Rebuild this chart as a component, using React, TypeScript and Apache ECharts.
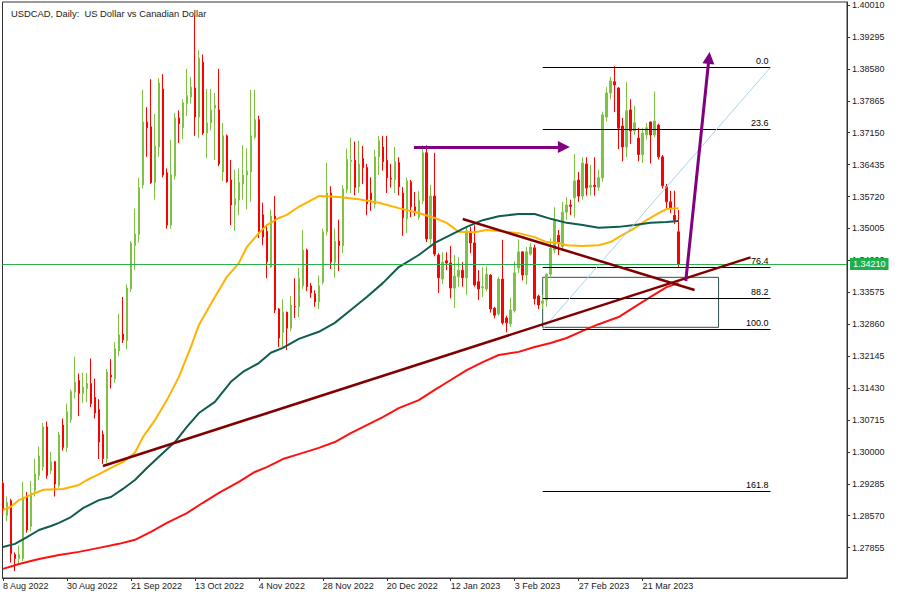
import React, { useEffect, useRef } from 'react';
import * as echarts from 'echarts';

// ---- axis ticks / labels ----
const xTickIndex = [0, 16, 32, 48, 64, 80, 96, 112, 128, 144, 160];
const xTickLabels = ['8 Aug 2022', '30 Aug 2022', '21 Sep 2022', '13 Oct 2022', '4 Nov 2022', '28 Nov 2022', '20 Dec 2022', '12 Jan 2023', '3 Feb 2023', '27 Feb 2023', '21 Mar 2023'];
const priceTicks = [1.27855, 1.2857, 1.29285, 1.3, 1.30715, 1.3143, 1.32145, 1.3286, 1.33575, 1.3429, 1.35005, 1.3572, 1.36435, 1.3715, 1.37865, 1.3858, 1.39295, 1.4001];

// ---- daily candles: [open, high, low, close], one row per trading day from 8 Aug 2022 ----
const ohlc = [
  [1.2930, 1.2935, 1.2860, 1.2870], [1.2858, 1.2900, 1.2845, 1.2887], [1.2891, 1.2895, 1.2752, 1.2772], [1.2770, 1.2775, 1.2733, 1.2761],
  [1.2761, 1.2790, 1.2749, 1.2770], [1.2761, 1.2933, 1.2755, 1.2899], [1.2899, 1.2910, 1.2819, 1.2825], [1.2833, 1.2935, 1.2822, 1.2908],
  [1.2914, 1.2985, 1.2900, 1.2950], [1.2947, 1.3012, 1.2937, 1.2991], [1.2967, 1.3065, 1.2958, 1.3056], [1.3056, 1.3068, 1.2940, 1.2947],
  [1.2958, 1.3000, 1.2950, 1.2978], [1.2978, 1.2980, 1.2900, 1.2928], [1.2925, 1.3045, 1.2920, 1.3038], [1.3060, 1.3075, 1.3003, 1.3010],
  [1.3010, 1.3108, 1.3000, 1.3090], [1.3072, 1.3140, 1.3065, 1.3135], [1.3134, 1.3213, 1.3120, 1.3156], [1.3160, 1.3175, 1.3080, 1.3131],
  [1.3131, 1.3177, 1.3110, 1.3145], [1.3142, 1.3177, 1.3112, 1.3153], [1.3153, 1.3209, 1.3100, 1.3108], [1.3122, 1.3164, 1.3075, 1.3087],
  [1.3095, 1.3118, 1.2984, 1.3022], [1.3039, 1.3048, 1.2973, 1.2985], [1.2985, 1.3185, 1.2975, 1.3179], [1.3172, 1.3208, 1.3142, 1.3168],
  [1.3164, 1.3246, 1.3155, 1.3231], [1.3226, 1.3309, 1.3215, 1.3262], [1.3264, 1.3347, 1.3244, 1.3251], [1.3249, 1.3375, 1.3230, 1.3367],
  [1.3365, 1.3472, 1.3358, 1.3468], [1.3462, 1.3545, 1.3408, 1.3488], [1.3487, 1.3614, 1.3469, 1.3592], [1.3598, 1.3811, 1.3590, 1.3739],
  [1.3739, 1.3772, 1.3661, 1.3726], [1.3728, 1.3835, 1.3600, 1.3603], [1.3603, 1.3757, 1.3565, 1.3685], [1.3683, 1.3837, 1.3661, 1.3826],
  [1.3813, 1.3846, 1.3615, 1.3620], [1.3625, 1.3635, 1.3500, 1.3508], [1.3508, 1.3699, 1.3500, 1.3620], [1.3618, 1.3759, 1.3610, 1.3748],
  [1.3748, 1.3765, 1.3692, 1.3735], [1.3726, 1.3790, 1.3700, 1.3782], [1.3780, 1.3858, 1.3752, 1.3798], [1.3795, 1.3840, 1.3780, 1.3817],
  [1.3815, 1.3977, 1.3708, 1.3750], [1.3750, 1.3900, 1.3703, 1.3882], [1.3873, 1.3890, 1.3710, 1.3714], [1.3714, 1.3813, 1.3658, 1.3737],
  [1.3737, 1.3813, 1.3720, 1.3766], [1.3770, 1.3804, 1.3654, 1.3777], [1.3766, 1.3858, 1.3640, 1.3645], [1.3627, 1.3737, 1.3606, 1.3708],
  [1.3708, 1.3711, 1.3603, 1.3605], [1.3609, 1.3654, 1.3508, 1.3553], [1.3553, 1.3632, 1.3495, 1.3567], [1.3564, 1.3635, 1.3530, 1.3604],
  [1.3600, 1.3687, 1.3565, 1.3620], [1.3620, 1.3680, 1.3543, 1.3629], [1.3627, 1.3811, 1.3560, 1.3708], [1.3705, 1.3811, 1.3700, 1.3744],
  [1.3744, 1.3753, 1.3479, 1.3490], [1.3531, 1.3558, 1.3463, 1.3481], [1.3494, 1.3509, 1.3389, 1.3426], [1.3414, 1.3543, 1.3412, 1.3528],
  [1.3528, 1.3573, 1.3311, 1.3318], [1.3320, 1.3322, 1.3235, 1.3255], [1.3268, 1.3342, 1.3235, 1.3313], [1.3313, 1.3314, 1.3228, 1.3277],
  [1.3277, 1.3349, 1.3270, 1.3329], [1.3326, 1.3389, 1.3300, 1.3325], [1.3325, 1.3412, 1.3302, 1.3389], [1.3372, 1.3497, 1.3365, 1.3452],
  [1.3452, 1.3455, 1.3360, 1.3370], [1.3372, 1.3378, 1.3345, 1.3356], [1.3354, 1.3362, 1.3325, 1.3336], [1.3336, 1.3395, 1.3320, 1.3372],
  [1.3380, 1.3500, 1.3375, 1.3493], [1.3493, 1.3648, 1.3485, 1.3580], [1.3580, 1.3595, 1.3410, 1.3425], [1.3425, 1.3500, 1.3390, 1.3472],
  [1.3472, 1.3520, 1.3405, 1.3462], [1.3462, 1.3598, 1.3445, 1.3589], [1.3587, 1.3679, 1.3580, 1.3655], [1.3650, 1.3704, 1.3580, 1.3653],
  [1.3653, 1.3695, 1.3575, 1.3592], [1.3594, 1.3697, 1.3580, 1.3645], [1.3657, 1.3685, 1.3600, 1.3637], [1.3637, 1.3645, 1.3530, 1.3555],
  [1.3580, 1.3615, 1.3540, 1.3565], [1.3555, 1.3677, 1.3545, 1.3661], [1.3661, 1.3708, 1.3620, 1.3697], [1.3683, 1.3708, 1.3630, 1.3650],
  [1.3653, 1.3708, 1.3580, 1.3614], [1.3613, 1.3645, 1.3592, 1.3611], [1.3610, 1.3683, 1.3580, 1.3650], [1.3648, 1.3660, 1.3575, 1.3594],
  [1.3580, 1.3593, 1.3484, 1.3524], [1.3522, 1.3614, 1.3490, 1.3607], [1.3605, 1.3609, 1.3526, 1.3549], [1.3549, 1.3582, 1.3528, 1.3540],
  [1.3526, 1.3584, 1.3520, 1.3564], [1.3562, 1.3687, 1.3555, 1.3670], [1.3670, 1.3687, 1.3470, 1.3477], [1.3477, 1.3598, 1.3465, 1.3573],
  [1.3573, 1.3670, 1.3438, 1.3443], [1.3441, 1.3445, 1.3356, 1.3390], [1.3387, 1.3447, 1.3376, 1.3425], [1.3428, 1.3447, 1.3407, 1.3423],
  [1.3423, 1.3461, 1.3344, 1.3367], [1.3367, 1.3441, 1.3322, 1.3394], [1.3392, 1.3436, 1.3370, 1.3407], [1.3407, 1.3425, 1.3370, 1.3390],
  [1.3390, 1.3504, 1.3351, 1.3495], [1.3493, 1.3504, 1.3445, 1.3468], [1.3468, 1.3508, 1.3370, 1.3374], [1.3381, 1.3407, 1.3340, 1.3365],
  [1.3368, 1.3414, 1.3347, 1.3370], [1.3365, 1.3416, 1.3360, 1.3398], [1.3396, 1.3398, 1.3312, 1.3320], [1.3322, 1.3325, 1.3299, 1.3306],
  [1.3309, 1.3392, 1.3305, 1.3387], [1.3387, 1.3475, 1.3285, 1.3289], [1.3300, 1.3305, 1.3268, 1.3289], [1.3287, 1.3345, 1.3280, 1.3318],
  [1.3316, 1.3427, 1.3312, 1.3401], [1.3412, 1.3476, 1.3400, 1.3448], [1.3448, 1.3449, 1.3384, 1.3396], [1.3396, 1.3459, 1.3375, 1.3448],
  [1.3443, 1.3468, 1.3440, 1.3459], [1.3457, 1.3464, 1.3330, 1.3343], [1.3349, 1.3352, 1.3320, 1.3329], [1.3333, 1.3352, 1.3320, 1.3338],
  [1.3340, 1.3400, 1.3325, 1.3398], [1.3398, 1.3478, 1.3390, 1.3456], [1.3452, 1.3548, 1.3445, 1.3519], [1.3485, 1.3497, 1.3441, 1.3470],
  [1.3460, 1.3560, 1.3455, 1.3537], [1.3537, 1.3571, 1.3520, 1.3553], [1.3553, 1.3565, 1.3530, 1.3550], [1.3569, 1.3667, 1.3525, 1.3607],
  [1.3609, 1.3627, 1.3560, 1.3573], [1.3573, 1.3660, 1.3565, 1.3647], [1.3645, 1.3660, 1.3574, 1.3591], [1.3593, 1.3643, 1.3574, 1.3597],
  [1.3597, 1.3660, 1.3574, 1.3594], [1.3593, 1.3632, 1.3585, 1.3614], [1.3614, 1.3762, 1.3605, 1.3755], [1.3750, 1.3817, 1.3740, 1.3804],
  [1.3804, 1.3840, 1.3790, 1.3831], [1.3829, 1.3864, 1.3761, 1.3822], [1.3815, 1.3817, 1.3678, 1.3725], [1.3730, 1.3748, 1.3651, 1.3683],
  [1.3683, 1.3828, 1.3660, 1.3764], [1.3766, 1.3790, 1.3690, 1.3719], [1.3719, 1.3775, 1.3710, 1.3737], [1.3703, 1.3726, 1.3651, 1.3666],
  [1.3666, 1.3726, 1.3647, 1.3714], [1.3710, 1.3737, 1.3700, 1.3726], [1.3739, 1.3740, 1.3646, 1.3710], [1.3710, 1.3807, 1.3705, 1.3741],
  [1.3732, 1.3735, 1.3655, 1.3661], [1.3661, 1.3665, 1.3590, 1.3596], [1.3594, 1.3600, 1.3545, 1.3560], [1.3560, 1.3585, 1.3535, 1.3544],
  [1.3530, 1.3585, 1.3510, 1.3519], [1.3493, 1.3542, 1.3412, 1.3421],
];

// ---- moving averages: [bar index, price] ----
const maYellow = [
  [0, 1.2870], [2, 1.2877], [4, 1.2892], [8, 1.2908], [10, 1.2915], [15, 1.2917], [19, 1.2926], [21, 1.2937], [24, 1.2950], [27, 1.2964],
  [30, 1.2977], [33, 1.2998], [35, 1.3033], [38, 1.3071], [41, 1.3116], [44, 1.3168], [47, 1.3235], [49, 1.3284], [53, 1.3347], [56, 1.3392],
  [59, 1.3423], [61, 1.3459], [64, 1.3490], [66, 1.3508], [69, 1.3524], [71, 1.3531], [74, 1.3549], [79, 1.3573], [84, 1.3571], [89, 1.3566],
  [94, 1.3558], [99, 1.3546], [104, 1.3535], [108, 1.3524], [111, 1.3513], [114, 1.3493], [118, 1.3492], [121, 1.3497], [124, 1.3495],
  [129, 1.3490], [133, 1.3481], [136, 1.3470], [139, 1.3468], [141, 1.3463], [145, 1.3461], [149, 1.3463], [152, 1.3470], [154, 1.3481],
  [158, 1.3501], [161, 1.3519], [164, 1.3535], [166, 1.3544], [169, 1.3546],
];
const maTeal = [
  [0, 1.2787], [3, 1.2794], [6, 1.2809], [9, 1.2825], [12, 1.2834], [14, 1.2841], [17, 1.2854], [20, 1.2874], [24, 1.2892], [27, 1.2899],
  [30, 1.2917], [33, 1.2937], [36, 1.2964], [39, 1.2989], [43, 1.3022], [46, 1.3056], [49, 1.3087], [53, 1.3112], [57, 1.3157], [60, 1.3179],
  [64, 1.3199], [67, 1.3222], [70, 1.3233], [74, 1.3253], [79, 1.3269], [83, 1.3289], [87, 1.3318], [91, 1.3347], [95, 1.3378], [99, 1.3414],
  [104, 1.3441], [108, 1.3468], [112, 1.3486], [116, 1.3504], [120, 1.3519], [124, 1.3528], [129, 1.3533], [133, 1.3533], [137, 1.3522],
  [141, 1.3513], [145, 1.3508], [149, 1.3502], [154, 1.3504], [158, 1.3508], [162, 1.3513], [166, 1.3515], [169, 1.3517],
];
const maRed = [
  [0, 1.2738], [4, 1.2749], [9, 1.2760], [14, 1.2769], [19, 1.2776], [24, 1.2785], [29, 1.2794], [33, 1.2803], [37, 1.2821], [41, 1.2841],
  [46, 1.2863], [50, 1.2886], [54, 1.2908], [59, 1.2933], [63, 1.2955], [66, 1.2966], [70, 1.2984], [74, 1.2995], [79, 1.3009], [83, 1.3022],
  [87, 1.3042], [91, 1.3060], [95, 1.3078], [99, 1.3098], [104, 1.3116], [108, 1.3139], [112, 1.3161], [116, 1.3183], [120, 1.3201],
  [124, 1.3217], [129, 1.3224], [133, 1.3235], [137, 1.3244], [141, 1.3255], [145, 1.3271], [149, 1.3286], [154, 1.3302], [158, 1.3325],
  [162, 1.3347], [166, 1.3369], [169, 1.3378],
];

// ---- drawing objects ----
const lastPrice = 1.3421;
const fibHigh = 1.38614;
const fibLow = 1.32746;
const fibLevels = [0, 23.6, 76.4, 88.2, 100, 161.8];
const fibStartIdx = 135;
const fibEndIdx = 192;
const boxCorners = [[135, 1.3391], [179, 1.3279]];
const trendUp = [[25, 1.29684], [187, 1.34358]];
const trendDown = [[115, 1.35216], [173, 1.33626]];
const arrowFlat = [[102.8, 1.36829], [140.3, 1.36829]];
const arrowUp = [[170.8, 1.33828], [176.6, 1.38823]];

const FONT = 'Liberation Sans';

export default function App() {
  const ref = useRef<HTMLDivElement>(null);
  useEffect(() => {
    if (!ref.current) return;
    const chart = echarts.init(ref.current, undefined, { renderer: 'svg' });
    const fibPrice = (l: number) => fibHigh - (l / 100) * (fibHigh - fibLow);
    const labelFor = (v: number) => {
      const k = xTickIndex.indexOf(Math.round(v));
      return k >= 0 ? xTickLabels[k] : '';
    };
    const candleData = ohlc.map((r, i) => [i, r[0], r[3], r[2], r[1]]);

    chart.setOption({
      animation: false,
      backgroundColor: '#ffffff',
      title: {
        text: 'USDCAD, Daily:  US Dollar vs Canadian Dollar',
        left: 6,
        top: 4,
        textStyle: { fontSize: 9.4, fontWeight: 'normal', color: '#222', fontFamily: FONT },
      },
      grid: { left: 2, right: 53, top: 2, bottom: 22, show: true, borderColor: '#333', borderWidth: 1, backgroundColor: 'transparent' },
      xAxis: {
        type: 'value',
        min: -0.125,
        max: 211.125,
        splitLine: { show: false },
        axisLine: { show: true, onZero: false, lineStyle: { color: '#333' } },
        axisTick: { show: true, length: 3, customValues: xTickIndex, lineStyle: { color: '#333' } },
        axisLabel: {
          customValues: xTickIndex,
          formatter: (v: number) => labelFor(v),
          align: 'left',
          fontSize: 9,
          margin: 3,
          color: '#222',
          fontFamily: FONT,
        },
      },
      yAxis: {
        type: 'value',
        position: 'right',
        min: 1.27175,
        max: 1.40077,
        scale: true,
        splitLine: { show: false },
        axisLine: { show: true, onZero: false, lineStyle: { color: '#333' } },
        axisTick: { show: true, length: 3, customValues: priceTicks, lineStyle: { color: '#333' } },
        axisLabel: {
          customValues: priceTicks,
          formatter: (v: number) => v.toFixed(5),
          fontSize: 9,
          margin: 5,
          color: '#222',
          fontFamily: FONT,
        },
      },
      series: [
        {
          name: 'price line',
          type: 'line',
          data: [],
          z: 1,
          markLine: {
            silent: true,
            precision: 5,
            symbol: ['none', 'none'],
            lineStyle: { color: '#2DAF4D', width: 1, type: 'solid' },
            label: {
              show: true,
              position: 'end',
              distance: 3,
              formatter: () => lastPrice.toFixed(5),
              backgroundColor: '#1DB04C',
              color: '#ffffff',
              padding: [2, 3, 1, 3],
              fontSize: 9,
              lineHeight: 9,
              fontFamily: FONT,
            },
            data: [{ yAxis: lastPrice }],
          },
        },
        {
          name: 'candles',
          type: 'candlestick',
          data: candleData,
          barWidth: 2,
          z: 3,
          itemStyle: { color: '#7DC243', color0: '#FF0000', borderColor: '#7DC243', borderColor0: '#FF0000', borderWidth: 1 },
        },
        { name: 'MA fast', type: 'line', data: maYellow, symbol: 'none', z: 4, lineStyle: { color: '#FFB300', width: 2 } },
        { name: 'MA mid', type: 'line', data: maTeal, symbol: 'none', z: 4, lineStyle: { color: '#0F5C50', width: 2 } },
        { name: 'MA slow', type: 'line', data: maRed, symbol: 'none', z: 4, lineStyle: { color: '#FF1010', width: 2 } },
        {
          name: 'fibo',
          type: 'line',
          data: [],
          z: 5,
          markLine: {
            silent: true,
            precision: 5,
            symbol: ['none', 'none'],
            lineStyle: { color: '#000000', width: 1.2, type: 'solid' },
            label: {
              show: true,
              position: 'insideEndTop',
              distance: [2, 2],
              formatter: '{b}',
              color: '#000',
              fontSize: 9,
              fontFamily: FONT,
            },
            data: fibLevels.map((l) => [
              { coord: [fibStartIdx, fibPrice(l)], name: l.toFixed(1) },
              { coord: [fibEndIdx, fibPrice(l)] },
            ]),
          },
        },
        {
          name: 'fibo trend',
          type: 'line',
          data: [],
          z: 5,
          markLine: {
            silent: true,
            precision: 5,
            symbol: ['none', 'none'],
            label: { show: false },
            lineStyle: { color: '#A6D3EA', width: 1, type: 'solid' },
            data: [[{ coord: [fibStartIdx, fibLow] }, { coord: [fibEndIdx, fibHigh] }]],
          },
        },
        {
          name: 'box',
          type: 'line',
          data: [],
          z: 5,
          markArea: {
            silent: true,
            itemStyle: { color: 'rgba(0,0,0,0)', borderColor: '#2F4F4F', borderWidth: 1 },
            data: [[{ coord: boxCorners[0] }, { coord: boxCorners[1] }]],
          },
        },
        {
          name: 'trendlines',
          type: 'line',
          data: [],
          z: 6,
          markLine: {
            silent: true,
            precision: 5,
            symbol: ['none', 'none'],
            label: { show: false },
            lineStyle: { color: '#800000', width: 2.5, type: 'solid' },
            data: [
              [{ coord: trendUp[0] }, { coord: trendUp[1] }],
              [{ coord: trendDown[0] }, { coord: trendDown[1] }],
            ],
          },
        },
        {
          name: 'arrows',
          type: 'line',
          data: [],
          z: 7,
          markLine: {
            silent: true,
            precision: 5,
            symbol: ['none', 'triangle'],
            symbolSize: [12, 12],
            label: { show: false },
            lineStyle: { color: '#800080', width: 3, type: 'solid' },
            data: [
              [{ coord: arrowFlat[0] }, { coord: arrowFlat[1] }],
              [{ coord: arrowUp[0] }, { coord: arrowUp[1] }],
            ],
          },
        },
      ],
    });
    return () => chart.dispose();
  }, []);
  return <div ref={ref} style={{ position: 'fixed', left: 0, top: 0, width: 900, height: 600, background: '#fff' }} />;
}
